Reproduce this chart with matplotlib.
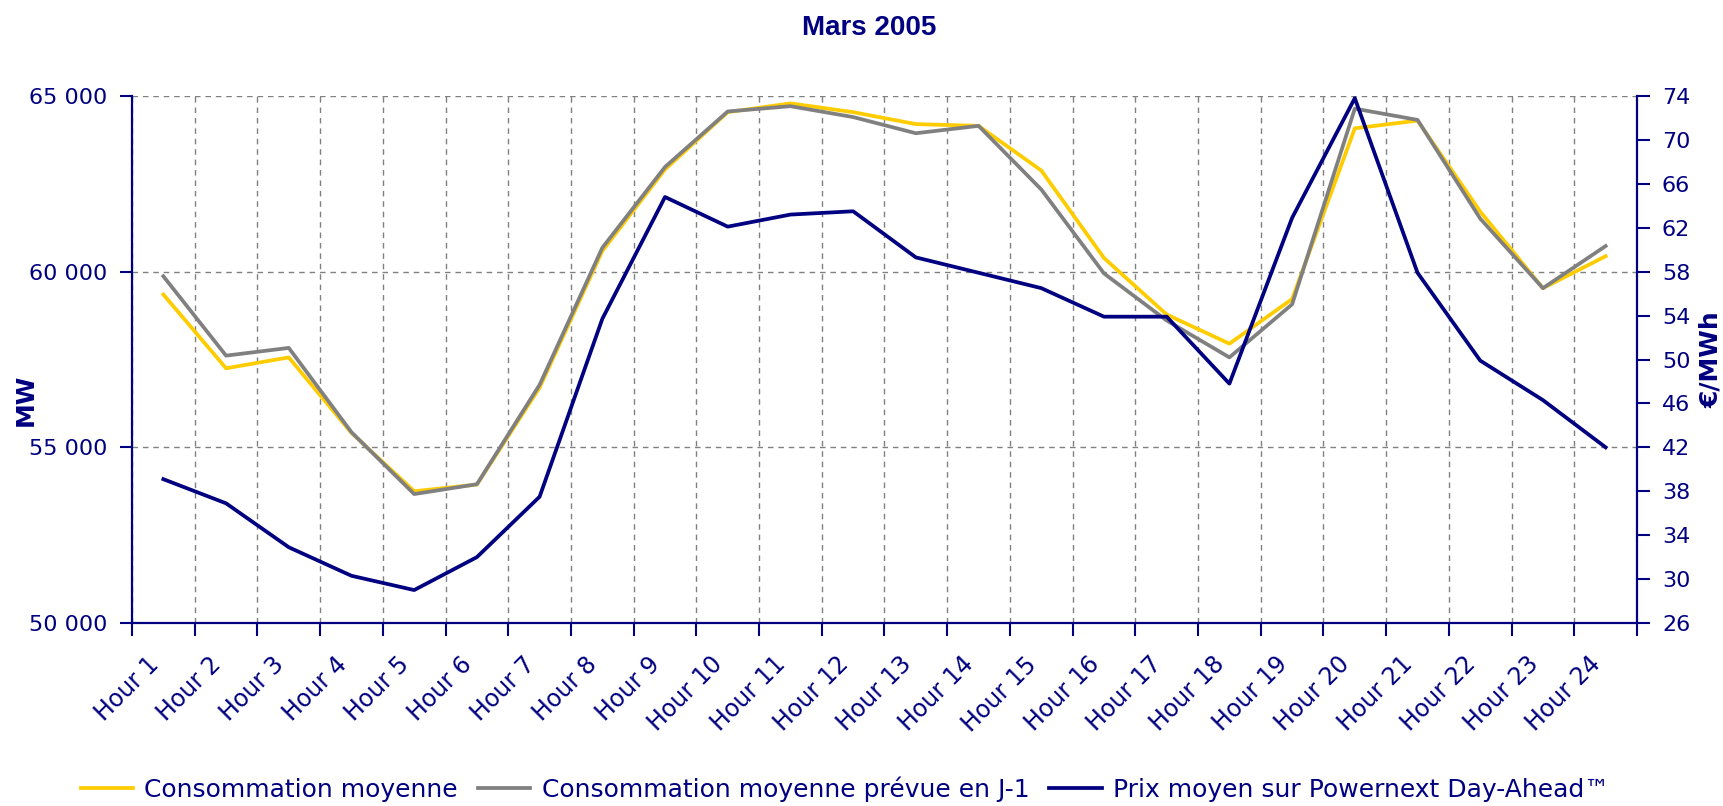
import matplotlib
matplotlib.use("Agg")
from matplotlib import pyplot as plt
from matplotlib.ticker import FuncFormatter, FixedLocator
import numpy as np

hours = ['Hour %d' % h for h in range(1, 25)]

conso = [59350, 57250, 57560, 55410, 53750, 53940, 56700, 60590, 62910, 64540,
         64790, 64540, 64200, 64150, 62880, 60390, 58780, 57950, 59220, 64080,
         64300, 61710, 59530, 60440]
conso_prev = [59870, 57610, 57830, 55430, 53670, 53950, 56780, 60680, 62980, 64560,
              64710, 64400, 63940, 64150, 62340, 59950, 58610, 57560, 59070, 64640,
              64320, 61510, 59530, 60730]
prix = [39.1, 36.9, 32.9, 30.3, 29.0, 32.0, 37.5, 53.7, 64.8, 62.1,
        63.2, 63.5, 59.3, 57.9, 56.5, 53.9, 53.9, 47.8, 62.9, 73.8,
        57.9, 49.9, 46.3, 42.0]

navy = '#000080'
grid_col = '#808080'

fig = plt.figure(figsize=(17.24, 8.06), dpi=100)
ax = fig.add_axes([132 / 1724, 1 - 623 / 806, (1637 - 132) / 1724, (623 - 96) / 806])

x = np.arange(len(hours))
ax.plot(x, conso, color='#FFCC00', lw=2.7, label='Consommation moyenne', zorder=3)
ax.plot(x, conso_prev, color='#808080', lw=2.7, label='Consommation moyenne prévue en J-1', zorder=4)

ax.set_xlim(-0.5, len(hours) - 0.5)
ax.set_ylim(50000, 65000)
ax.set_yticks([50000, 55000, 60000, 65000])
ax.yaxis.set_major_formatter(FuncFormatter(lambda v, p: '{:,}'.format(int(v)).replace(',', ' ')))

ax.xaxis.set_major_locator(FixedLocator(np.arange(-0.5, len(hours), 1.0)))
ax.xaxis.set_major_formatter(FuncFormatter(lambda v, p: ''))
ax.set_xticks(x, minor=True)
ax.set_xticklabels(hours, minor=True, rotation=45, ha='right', color=navy, fontsize=17)
ax.tick_params(axis='x', which='minor', length=0, pad=21)
ax.tick_params(axis='x', which='major', length=9, width=1.5, color=navy)
ax.tick_params(axis='y', length=9, width=1.5, color=navy, labelcolor=navy, labelsize=16, pad=9)

ax.grid(True, which='major', color=grid_col, lw=1, linestyle=(0, (4, 3.5)))
ax.set_axisbelow(True)

for s in ['left', 'bottom']:
    ax.spines[s].set_color(navy)
    ax.spines[s].set_linewidth(1.6)
ax.spines['top'].set_visible(False)
ax.spines['right'].set_visible(False)

ax2 = ax.twinx()
ax2.plot(x, prix, color=navy, lw=2.7, label='Prix moyen sur Powernext Day-Ahead™', zorder=5)
ax2.set_ylim(26, 74)
ax2.set_yticks(np.arange(26, 75, 4))
ax2.tick_params(axis='y', length=9, width=1.5, color=navy, labelcolor=navy, labelsize=16, pad=9)
ax2.spines['right'].set_color(navy)
ax2.spines['right'].set_linewidth(1.6)
for s in ['left', 'top', 'bottom']:
    ax2.spines[s].set_visible(False)

fig.text(869 / 1724, 1 - 28 / 806, 'Mars 2005', ha='center', va='center',
         fontsize=20, fontweight='bold', color=navy, family='Liberation Sans')
fig.text(26 / 1724, 1 - 400 / 806, 'MW', ha='center', va='center', rotation=90,
         fontsize=18, fontweight='bold', color=navy)
fig.text(1711 / 1724, 1 - 360 / 806, '€/MWh', ha='center', va='center', rotation=90,
         fontsize=18, fontweight='bold', color=navy)

h1, l1 = ax.get_legend_handles_labels()
h2, l2 = ax2.get_legend_handles_labels()
leg = fig.legend(h1 + h2, l1 + l2, loc='center', bbox_to_anchor=(845 / 1724, 1 - 789 / 806),
                 ncol=3, frameon=False, fontsize=18, handlelength=2.1, handletextpad=0.45,
                 columnspacing=0.8)
for t in leg.get_texts():
    t.set_color(navy)

fig.savefig('out.png', dpi=100, facecolor='white')
